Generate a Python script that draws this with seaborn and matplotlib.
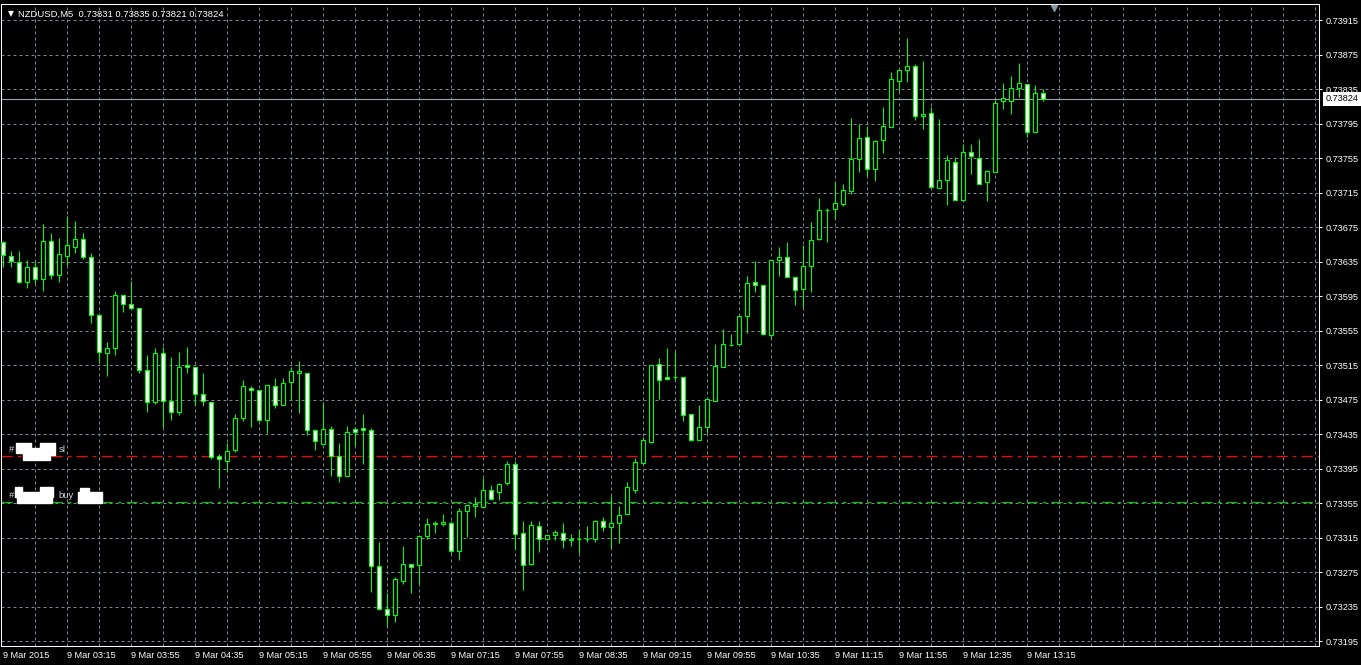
import matplotlib
matplotlib.use("Agg")
import matplotlib.pyplot as plt
import matplotlib.transforms as mtransforms
from matplotlib.patches import Rectangle
import seaborn as sns
import numpy as np
import pandas as pd

# ---------------- data (5-minute NZDUSD candles) ----------------
opens = [0.73658, 0.73642, 0.73635, 0.73612, 0.73629, 0.73615, 0.73659, 0.73620, 0.73642, 0.73652,
         0.73662, 0.73641, 0.73573, 0.73529, 0.73535, 0.73596, 0.73586, 0.73581, 0.73509, 0.73472,
         0.73529, 0.73474, 0.73461, 0.73515, 0.73513, 0.73482, 0.73472, 0.73410, 0.73404, 0.73417,
         0.73454, 0.73489, 0.73486, 0.73452, 0.73491, 0.73469, 0.73496, 0.73506, 0.73506, 0.73440,
         0.73424, 0.73441, 0.73410, 0.73387, 0.73441, 0.73442, 0.73440, 0.73282, 0.73233, 0.73225,
         0.73265, 0.73285, 0.73284, 0.73317, 0.73331, 0.73331, 0.73332, 0.73300, 0.73346, 0.73352,
         0.73351, 0.73370, 0.73368, 0.73378, 0.73400, 0.73320, 0.73285, 0.73329, 0.73314, 0.73318,
         0.73321, 0.73313, 0.73314, 0.73314, 0.73314, 0.73334, 0.73327, 0.73332, 0.73343, 0.73371,
         0.73402, 0.73426, 0.73516, 0.73501, 0.73501, 0.73502, 0.73458, 0.73428, 0.73443, 0.73474,
         0.73513, 0.73539, 0.73540, 0.73572, 0.73612, 0.73608, 0.73550, 0.73637, 0.73641, 0.73617,
         0.73603, 0.73630, 0.73661, 0.73695, 0.73696, 0.73702, 0.73717, 0.73754, 0.73780, 0.73743,
         0.73776, 0.73791, 0.73845, 0.73857, 0.73862, 0.73804, 0.73807, 0.73721, 0.73730, 0.73751,
         0.73707, 0.73762, 0.73755, 0.73727, 0.73739, 0.73822, 0.73821, 0.73836, 0.73841, 0.73785,
         0.73831]
highs = [0.73659, 0.73648, 0.73647, 0.73637, 0.73635, 0.73679, 0.73668, 0.73663, 0.73688, 0.73682,
         0.73668, 0.73645, 0.73573, 0.73542, 0.73601, 0.73596, 0.73613, 0.73581, 0.73527, 0.73535,
         0.73536, 0.73525, 0.73530, 0.73536, 0.73513, 0.73506, 0.73472, 0.73412, 0.73425, 0.73458,
         0.73498, 0.73491, 0.73486, 0.73492, 0.73500, 0.73500, 0.73513, 0.73520, 0.73506, 0.73441,
         0.73473, 0.73445, 0.73425, 0.73445, 0.73444, 0.73458, 0.73442, 0.73310, 0.73251, 0.73269,
         0.73306, 0.73285, 0.73317, 0.73338, 0.73334, 0.73343, 0.73334, 0.73349, 0.73353, 0.73362,
         0.73384, 0.73376, 0.73378, 0.73404, 0.73404, 0.73334, 0.73334, 0.73334, 0.73318, 0.73324,
         0.73332, 0.73319, 0.73325, 0.73329, 0.73336, 0.73339, 0.73363, 0.73352, 0.73380, 0.73408,
         0.73432, 0.73515, 0.73523, 0.73535, 0.73530, 0.73502, 0.73459, 0.73469, 0.73476, 0.73540,
         0.73557, 0.73551, 0.73572, 0.73619, 0.73636, 0.73608, 0.73637, 0.73652, 0.73658, 0.73617,
         0.73654, 0.73681, 0.73709, 0.73697, 0.73728, 0.73725, 0.73802, 0.73795, 0.73792, 0.73776,
         0.73814, 0.73855, 0.73857, 0.73894, 0.73864, 0.73868, 0.73814, 0.73801, 0.73759, 0.73757,
         0.73772, 0.73772, 0.73777, 0.73742, 0.73823, 0.73842, 0.73851, 0.73865, 0.73841, 0.73840,
         0.73835]
lows = [0.73629, 0.73629, 0.73610, 0.73605, 0.73610, 0.73601, 0.73615, 0.73612, 0.73631, 0.73645,
        0.73638, 0.73564, 0.73519, 0.73503, 0.73527, 0.73577, 0.73581, 0.73506, 0.73461, 0.73470,
        0.73443, 0.73452, 0.73457, 0.73506, 0.73469, 0.73468, 0.73406, 0.73373, 0.73392, 0.73414,
        0.73450, 0.73443, 0.73450, 0.73437, 0.73465, 0.73469, 0.73475, 0.73460, 0.73434, 0.73417,
        0.73424, 0.73387, 0.73380, 0.73387, 0.73421, 0.73401, 0.73252, 0.73231, 0.73213, 0.73217,
        0.73262, 0.73251, 0.73261, 0.73314, 0.73320, 0.73329, 0.73297, 0.73289, 0.73316, 0.73339,
        0.73351, 0.73359, 0.73359, 0.73376, 0.73302, 0.73255, 0.73283, 0.73299, 0.73312, 0.73312,
        0.73303, 0.73306, 0.73297, 0.73310, 0.73310, 0.73323, 0.73303, 0.73309, 0.73343, 0.73367,
        0.73399, 0.73425, 0.73476, 0.73498, 0.73498, 0.73451, 0.73427, 0.73428, 0.73436, 0.73474,
        0.73513, 0.73537, 0.73540, 0.73552, 0.73600, 0.73550, 0.73547, 0.73619, 0.73617, 0.73585,
        0.73583, 0.73600, 0.73660, 0.73658, 0.73685, 0.73700, 0.73714, 0.73739, 0.73734, 0.73729,
        0.73761, 0.73791, 0.73833, 0.73844, 0.73799, 0.73789, 0.73722, 0.73721, 0.73701, 0.73707,
        0.73707, 0.73737, 0.73725, 0.73705, 0.73739, 0.73812, 0.73806, 0.73826, 0.73780, 0.73785,
        0.73821]
closes = [0.73643, 0.73636, 0.73612, 0.73629, 0.73615, 0.73659, 0.73620, 0.73644, 0.73655, 0.73662,
          0.73640, 0.73573, 0.73530, 0.73535, 0.73596, 0.73586, 0.73581, 0.73509, 0.73473, 0.73529,
          0.73474, 0.73461, 0.73513, 0.73513, 0.73482, 0.73474, 0.73409, 0.73406, 0.73416, 0.73454,
          0.73491, 0.73486, 0.73452, 0.73492, 0.73469, 0.73495, 0.73508, 0.73508, 0.73440, 0.73427,
          0.73441, 0.73410, 0.73387, 0.73438, 0.73438, 0.73440, 0.73282, 0.73233, 0.73225, 0.73267,
          0.73285, 0.73281, 0.73317, 0.73331, 0.73332, 0.73333, 0.73300, 0.73346, 0.73353, 0.73354,
          0.73370, 0.73360, 0.73377, 0.73400, 0.73319, 0.73284, 0.73330, 0.73314, 0.73318, 0.73322,
          0.73313, 0.73314, 0.73314, 0.73314, 0.73334, 0.73327, 0.73332, 0.73342, 0.73374, 0.73403,
          0.73428, 0.73515, 0.73498, 0.73499, 0.73501, 0.73457, 0.73428, 0.73444, 0.73476, 0.73514,
          0.73540, 0.73539, 0.73572, 0.73611, 0.73608, 0.73551, 0.73637, 0.73641, 0.73617, 0.73602,
          0.73630, 0.73660, 0.73695, 0.73695, 0.73703, 0.73718, 0.73754, 0.73779, 0.73743, 0.73775,
          0.73792, 0.73847, 0.73857, 0.73862, 0.73804, 0.73806, 0.73722, 0.73730, 0.73753, 0.73707,
          0.73762, 0.73758, 0.73725, 0.73740, 0.73819, 0.73825, 0.73836, 0.73842, 0.73785, 0.73831,
          0.73824]

time_labels = ["9 Mar 2015", "9 Mar 03:15", "9 Mar 03:55", "9 Mar 04:35", "9 Mar 05:15",
               "9 Mar 05:55", "9 Mar 06:35", "9 Mar 07:15", "9 Mar 07:55", "9 Mar 08:35",
               "9 Mar 09:15", "9 Mar 09:55", "9 Mar 10:35", "9 Mar 11:15", "9 Mar 11:55",
               "9 Mar 12:35", "9 Mar 13:15"]
price_ticks = [0.73915, 0.73875, 0.73835, 0.73795, 0.73755, 0.73715, 0.73675, 0.73635, 0.73595,
               0.73555, 0.73515, 0.73475, 0.73435, 0.73395, 0.73355, 0.73315, 0.73275, 0.73235,
               0.73195]
last_price = 0.73824
sl_level = 0.73410
buy_level = 0.73356
symbol = "NZDUSD,M5"
header_ohlc = "0.73831 0.73835 0.73821 0.73824"

# ---------------- style ----------------
sns.set_theme(style="dark", rc={
    "axes.facecolor": "black", "figure.facecolor": "black",
    "axes.edgecolor": "white", "xtick.color": "white", "ytick.color": "white",
    "text.color": "white", "axes.grid": False,
})
plt.rcParams["font.family"] = ["Liberation Sans", "DejaVu Sans"]

GREEN = "#00ff00"
GRID = "#7a8796"
W, H = 1361, 665

df = pd.DataFrame({"o": opens, "h": highs, "l": lows, "c": closes})
df["idx"] = np.arange(len(df))
df["body_low"] = df[["o", "c"]].min(axis=1)
df["body_h"] = (df["c"] - df["o"]).abs()
df["face"] = np.where(df["c"] < df["o"], "white", "black")

fig = plt.figure(figsize=(W / 100, H / 100), dpi=100)
left_px, right_px, top_px, bot_px = 1, 1319, 4, 646
ax = fig.add_axes([left_px / W, 1 - bot_px / H, (right_px - left_px) / W, (bot_px - top_px) / H])
ax.set_facecolor("black")

# axis limits: 8 px per candle, candle 0 centred at x = 3.3 px; 34.5 px per 0.0004
px_per_bar = 8.0
x0 = 3.3
ax.set_xlim((left_px - x0) / px_per_bar, (right_px - x0) / px_per_bar)
ppu = 34.5 / 0.0004
ref_p, ref_y = 0.73675, 227.3
ax.set_ylim(ref_p - (bot_px - ref_y) / ppu, ref_p + (ref_y - top_px) / ppu)

# grid
for k in range(4, 166, 4):
    ax.axvline(k, color=GRID, lw=0.72, ls=(0, (3, 3)), zorder=1)
for p in price_ticks:
    ax.axhline(p, color=GRID, lw=0.72, ls=(0, (3, 3)), zorder=1)

# current price line
ax.axhline(last_price, color="#9aa3ad", lw=0.8, zorder=1.5)

# order levels
ax.axhline(sl_level, color="#ff0000", lw=0.9, ls=(0, (9, 4, 3, 4)), zorder=1.6)
ax.axhline(buy_level, color="#00c000", lw=0.9, ls=(0, (9, 4, 3, 4)), zorder=1.6)

# candles
ax.vlines(df["idx"], df["l"], df["h"], color=GREEN, lw=0.75, zorder=2)
ax.bar(df["idx"], df["body_h"], bottom=df["body_low"], width=0.52,
       color=df["face"], edgecolor=GREEN, linewidth=0.8, zorder=3)

# ticks
ax.set_xticks(np.arange(0, len(time_labels) * 8, 8))
ax.set_xticklabels(time_labels)
for lbl in ax.get_xticklabels():
    lbl.set_horizontalalignment("left")
ax.tick_params(axis="x", direction="out", length=2.2, width=0.72, colors="white",
               labelsize=6.6, pad=1.5)
ax.yaxis.tick_right()
ax.set_yticks(price_ticks)
ax.set_yticklabels([f"{p:.5f}" for p in price_ticks])
ax.tick_params(axis="y", direction="out", length=2.2, width=0.72, colors="white",
               labelsize=6.6, pad=2.5, left=False, right=True)
for s in ax.spines.values():
    s.set_color("white")
    s.set_linewidth(0.75)

# current price box on the scale
trans = mtransforms.blended_transform_factory(ax.transAxes, ax.transData)
ax.text((1326 - left_px) / (right_px - left_px), last_price, f"{last_price:.5f}",
        transform=trans, ha="left", va="center", color="black", fontsize=6.6, zorder=10,
        bbox=dict(boxstyle="square,pad=0.3", fc="white", ec="none"), clip_on=False)

# chart shift marker
ax.plot([len(df) + 0.3], [ref_p + (ref_y - 8) / ppu], marker="v", color="#8c96a0",
        markersize=5, clip_on=False, zorder=10)

# header
fig.text(8 / W, 1 - 14 / H, "▼", fontsize=5.5, color="white", va="center",
         family=["DejaVu Sans"])
fig.text(18 / W, 1 - 14 / H, f"{symbol}  {header_ohlc}", fontsize=6.8, color="white",
         va="center", ha="left")

# order labels (with redaction blobs)
lab_col = "#c9d3de"
fig.text(9 / W, 1 - 450 / H, "#", fontsize=6.8, color=lab_col, va="center")
fig.text(59 / W, 1 - 450 / H, "sl", fontsize=6.8, color=lab_col, va="center")
fig.text(9 / W, 1 - 496 / H, "#", fontsize=6.8, color=lab_col, va="center")
fig.text(58 / W, 1 - 496 / H, "buy", fontsize=6.8, color=lab_col, va="center")


def blob(x1, y1, x2, y2):
    fig.add_artist(Rectangle((x1 / W, 1 - y2 / H), (x2 - x1) / W, (y2 - y1) / H,
                             transform=fig.transFigure, color="white", zorder=20))


blob(16, 443, 31, 453)
blob(23, 448, 50, 460)
blob(40, 443, 55, 455)
blob(15, 487, 22, 497)
blob(17, 492, 52, 503)
blob(40, 487, 53, 497)
blob(78, 492, 102, 503)
blob(80, 488, 89, 493)

fig.savefig("out.png", dpi=100, facecolor="black")
